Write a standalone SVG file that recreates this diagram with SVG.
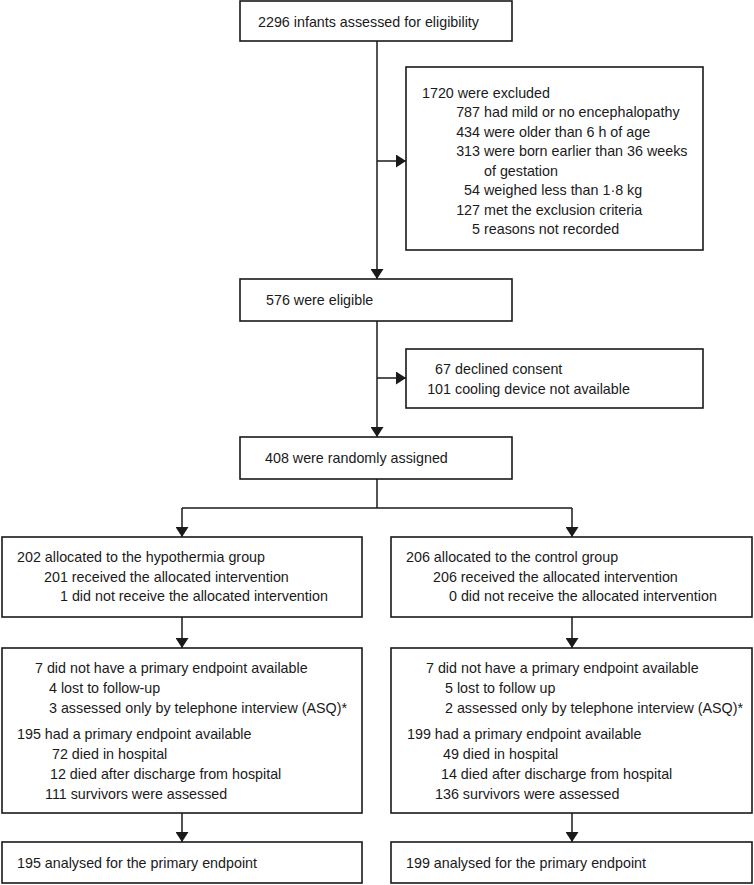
<svg xmlns="http://www.w3.org/2000/svg" width="754" height="885" viewBox="0 0 754 885">
<defs>
<style>
.box{fill:#fff;stroke:#1a1a1a;stroke-width:1.6}
.ln{fill:none;stroke:#1a1a1a;stroke-width:1.5}
text{font-family:"Liberation Sans",Arial,sans-serif;font-size:14.3px;fill:#1a1a1a}
.e{text-anchor:end}
</style>
<marker id="ah" markerUnits="userSpaceOnUse" markerWidth="11" markerHeight="13" refX="10" refY="6.5" orient="auto">
<path d="M0,0 L10,6.5 L0,13 Z" fill="#1a1a1a"/>
</marker>
</defs>
<rect width="754" height="885" fill="#fff"/>
<g id="connectors">
<line class="ln" x1="377" y1="41" x2="377" y2="279" marker-end="url(#ah)"/>
<line class="ln" x1="377" y1="161" x2="406" y2="161" marker-end="url(#ah)"/>
<line class="ln" x1="377" y1="321" x2="377" y2="437" marker-end="url(#ah)"/>
<line class="ln" x1="377" y1="378" x2="406" y2="378" marker-end="url(#ah)"/>
<polyline class="ln" points="377,479 377,508"/>
<polyline class="ln" points="182,508 572,508"/>
<line class="ln" x1="182" y1="508" x2="182" y2="537" marker-end="url(#ah)"/>
<line class="ln" x1="572" y1="508" x2="572" y2="537" marker-end="url(#ah)"/>
<line class="ln" x1="182" y1="617" x2="182" y2="648" marker-end="url(#ah)"/>
<line class="ln" x1="572" y1="617" x2="572" y2="648" marker-end="url(#ah)"/>
<line class="ln" x1="182" y1="813" x2="182" y2="842" marker-end="url(#ah)"/>
<line class="ln" x1="572" y1="813" x2="572" y2="842" marker-end="url(#ah)"/>
</g>
<g id="assessed">
<rect class="box" x="240" y="1" width="272" height="40"/>
<text x="258" y="26.5">2296 infants assessed for eligibility</text>
</g>
<g id="excluded">
<rect class="box" x="406" y="67" width="297" height="183"/>
<text x="422" y="97.5">1720 were excluded</text>
<text class="e" x="480" y="117">787</text><text x="484" y="117">had mild or no encephalopathy</text>
<text class="e" x="480" y="136.5">434</text><text x="484" y="136.5">were older than 6 h of age</text>
<text class="e" x="480" y="156">313</text><text x="484" y="156">were born earlier than 36 weeks</text>
<text x="484" y="175.5">of gestation</text>
<text class="e" x="480" y="195">54</text><text x="484" y="195">weighed less than 1·8 kg</text>
<text class="e" x="480" y="214.5">127</text><text x="484" y="214.5">met the exclusion criteria</text>
<text class="e" x="480" y="234">5</text><text x="484" y="234">reasons not recorded</text>
</g>
<g id="eligible">
<rect class="box" x="240" y="279" width="272" height="42"/>
<text x="266" y="305">576 were eligible</text>
</g>
<g id="declined">
<rect class="box" x="406" y="349" width="297" height="59"/>
<text class="e" x="451" y="374">67</text><text x="455" y="374">declined consent</text>
<text class="e" x="451" y="394">101</text><text x="455" y="394">cooling device not available</text>
</g>
<g id="randomised">
<rect class="box" x="240" y="437" width="272" height="42"/>
<text x="265" y="463">408 were randomly assigned</text>
</g>
<g id="hypothermia">
<rect class="box" x="2" y="537" width="360" height="80"/>
<text x="17" y="562">202 allocated to the hypothermia group</text>
<text x="44" y="581.5">201 received the allocated intervention</text>
<text x="60" y="601">1 did not receive the allocated intervention</text>
</g>
<g id="control">
<rect class="box" x="391" y="537" width="361" height="80"/>
<text x="406" y="562">206 allocated to the control group</text>
<text x="433" y="581.5">206 received the allocated intervention</text>
<text x="449" y="601">0 did not receive the allocated intervention</text>
</g>
<g id="hypothermia-followup">
<rect class="box" x="2" y="648" width="360" height="165"/>
<text x="35" y="673">7 did not have a primary endpoint available</text>
<text x="49" y="693">4 lost to follow-up</text>
<text x="49" y="713">3 assessed only by telephone interview (ASQ)*</text>
<text x="17" y="739">195 had a primary endpoint available</text>
<text x="52" y="759">72 died in hospital</text>
<text x="50" y="779">12 died after discharge from hospital</text>
<text x="45" y="799">111 survivors were assessed</text>
</g>
<g id="control-followup">
<rect class="box" x="391" y="648" width="361" height="165"/>
<text x="426" y="673">7 did not have a primary endpoint available</text>
<text x="445" y="693">5 lost to follow up</text>
<text x="445" y="713">2 assessed only by telephone interview (ASQ)*</text>
<text x="407" y="739">199 had a primary endpoint available</text>
<text x="443" y="759">49 died in hospital</text>
<text x="441" y="779">14 died after discharge from hospital</text>
<text x="435" y="799">136 survivors were assessed</text>
</g>
<g id="hypothermia-analysed">
<rect class="box" x="2" y="842" width="360" height="41"/>
<text x="17" y="867.5">195 analysed for the primary endpoint</text>
</g>
<g id="control-analysed">
<rect class="box" x="391" y="842" width="361" height="41"/>
<text x="406" y="867.5">199 analysed for the primary endpoint</text>
</g>
</svg>
